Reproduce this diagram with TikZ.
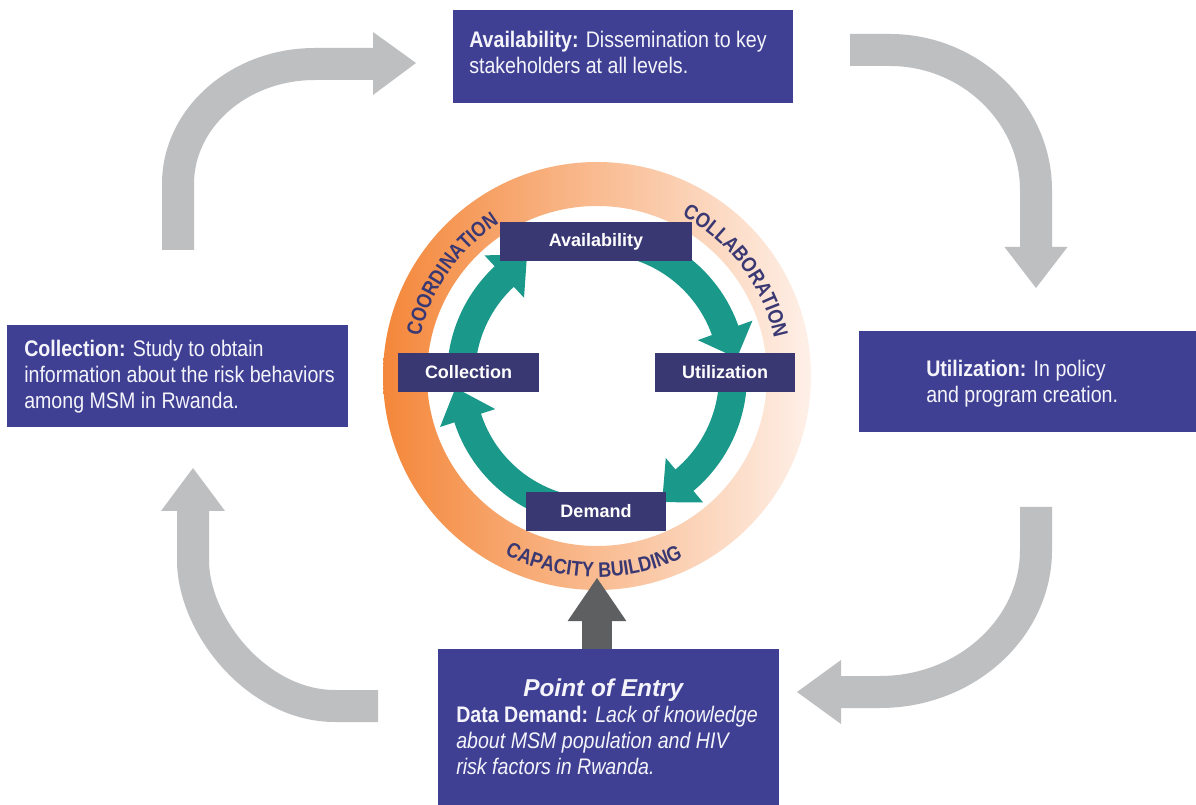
\documentclass[tikz,border=0pt]{standalone}
\usepackage{fontspec}
\setmainfont{Liberation Sans}
\newfontfamily\bodyfam{Liberation Sans}[FakeStretch=0.87]
\newfontfamily\ringfam{Liberation Sans}[FakeStretch=0.86]
\usetikzlibrary{calc,decorations.text}
\definecolor{bigblue}{HTML}{3F4094}
\definecolor{smallblue}{HTML}{3A3873}
\definecolor{ringtext}{HTML}{3A3873}
\definecolor{tealc}{HTML}{1A998A}
\definecolor{grayc}{HTML}{BEBFC1}
\definecolor{dgray}{HTML}{5E5F61}
\definecolor{ringL}{HTML}{F4873A}
\definecolor{ringM}{HTML}{F7B47F}
\definecolor{ringR}{HTML}{FEF0E8}
\definecolor{boxwhite}{HTML}{F4F4FA}
\newcommand\ringfont{\ringfam\bfseries\fontsize{15.75}{18}\selectfont}
\begin{document}
\begin{tikzpicture}[x=0.75pt,y=0.75pt,
  bigbox/.style={fill=bigblue, inner sep=0pt},
  smallbox/.style={fill=smallblue, inner sep=0pt, minimum height=29.25pt,
    text=white, font=\rmfamily\bfseries\fontsize{13.5}{16}\selectfont},
  boxtext/.style={text=boxwhite, align=left, inner sep=0pt, anchor=west,
    font=\bodyfam\fontsize{16.9}{19.5}\selectfont},
  tealarc/.style={draw=tealc, line width=21pt},
  grayshaft/.style={draw=grayc, line width=24pt},
  ringlabel/.style={decorate, decoration={text along path, text align=center, text color=ringtext}}
]
\useasboundingbox (0,0) rectangle (1196,804);
\fill[white] (0,0) rectangle (1196,804);
\coordinate (C) at (597,428);

% ring
\shade[left color=ringL, middle color=ringM, right color=ringR, even odd rule]
  (C) circle[radius=214] (C) circle[radius=170];

% ring labels
\path[ringlabel, decoration={text={|\ringfont|COORDINATION}}]
  ($(C)+(190:181)$) arc[start angle=190, end angle=100, radius=181];
\path[ringlabel, decoration={text={|\ringfont|COLLABORATION}}]
  ($(C)+(82:181)$) arc[start angle=82, end angle=-8, radius=181];
\path[ringlabel, decoration={text={|\ringfont|CAPACITY BUILDING}}]
  ($(C)+(224:201)$) arc[start angle=224, end angle=314, radius=201];

% teal cycle arrows
\draw[tealarc] ($(C)+(178:136)$) arc[start angle=178, end angle=132.5, radius=136];
\fill[tealc] ($(C)+(133:165)$) -- ($(C)+(133:107)$) -- ($(C)+(120:140)$) -- cycle;
\draw[tealarc] ($(C)+(75:136)$) arc[start angle=75, end angle=19, radius=136];
\fill[tealc] ($(C)+(19.6:165)$) -- ($(C)+(19.6:107)$) -- ($(C)+(7.3:141)$) -- cycle;
\draw[tealarc] ($(C)+(5:136)$) arc[start angle=5, end angle=-50.5, radius=136];
\fill[tealc] ($(C)+(-50:165)$) -- ($(C)+(-50:107)$) -- ($(C)+(-62.7:142)$) -- cycle;
\draw[tealarc] ($(C)+(-95:136)$) arc[start angle=-95, end angle=-162.5, radius=136];
\fill[tealc] ($(C)+(-162:165)$) -- ($(C)+(-162:107)$) -- ($(C)+(-175.2:142)$) -- cycle;

% small boxes
\node[smallbox, minimum width=144pt] (availS) at (596,562.5) {Availability};
\node[smallbox, minimum width=105.75pt] (collS) at (468.5,431.5) {Collection};
\node[smallbox, minimum width=105pt] (utilS) at (725,431.5) {Utilization};
\node[smallbox, minimum width=105pt] (demS) at (596,292.5) {Demand};

% big boxes
\node[bigbox, minimum width=255pt, minimum height=69.75pt] (availB) at (623,747.5) {};
\node[bigbox, minimum width=255.75pt, minimum height=76.5pt] (collB) at (177.5,428) {};
\node[bigbox, minimum width=255.75pt, minimum height=75.75pt] (utilB) at (1029.5,422.5) {};
\node[bigbox, minimum width=255.75pt, minimum height=120pt] (entryB) at (608.5,75) {};

\node[boxtext] (availT) at (469,752) {\textbf{Availability:} Dissemination to key\\stakeholders at all levels.};
\node[boxtext] (collT) at (24,427) {\textbf{Collection:} Study to obtain\\information about the risk behaviors\\among MSM in Rwanda.};
\node[boxtext] (utilT) at (926,420) {\textbf{Utilization:} In policy\\and program creation.};
\node[boxtext] (entryT) at (456,77) {\makebox[220.5pt][c]{\rmfamily\bfseries\itshape\fontsize{18.3}{19.5}\selectfont Point of Entry}\\\textbf{Data Demand:} \textit{Lack of knowledge}\\\textit{about MSM population and HIV}\\\textit{risk factors in Rwanda.}};

% outer grey cycle arrows
\draw[grayshaft] (178,554) -- (178,620) .. controls (178,686) and (239,740) .. (315,740) -- (374,740);
\fill[grayc] (373,772) -- (416,741) -- (373,709) -- cycle;
\draw[grayshaft] (850,754) -- (890,754) .. controls (969.5,754) and (1036,691) .. (1036,614) -- (1036,556);
\fill[grayc] (1004.5,557) -- (1067.5,557) -- (1036,516) -- cycle;
\draw[grayshaft] (1036,297) -- (1036,254) .. controls (1036,176) and (966,112) .. (880,112) -- (840,112);
\fill[grayc] (841,144) -- (841,80) -- (797,112) -- cycle;
\draw[grayshaft] (378,98) -- (335,98) .. controls (257,98) and (193,179) .. (193,244) -- (193,294);
\fill[grayc] (161,293) -- (225,293) -- (193,336) -- cycle;

% point of entry arrow
\coordinate (entryTop) at (C |- entryB.north);
\coordinate (entryHead) at (597,183);
\draw[draw=dgray, line width=22.5pt] (entryTop) -- ([yshift=1pt]entryHead);
\fill[dgray] ([xshift=-22pt]entryHead) -- ([xshift=22pt]entryHead) -- (597,226) -- cycle;
\end{tikzpicture}
\end{document}
